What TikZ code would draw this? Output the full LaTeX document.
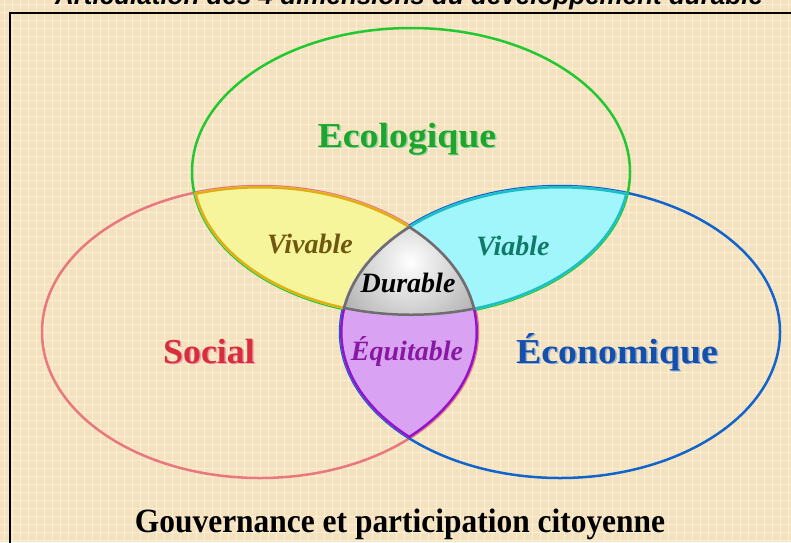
\documentclass[tikz,border=0pt]{standalone}
\usepackage{fontspec}
\setmainfont{Liberation Serif}
\newfontfamily\ttlfont{Liberation Sans}
\definecolor{bg}{RGB}{244,225,190}
\definecolor{gridc}{RGB}{252,242,222}
\definecolor{ecoline}{RGB}{34,200,50}
\definecolor{socline}{RGB}{232,120,125}
\definecolor{econline}{RGB}{18,100,205}
\definecolor{vivfill}{RGB}{247,245,155}
\definecolor{vivline}{RGB}{225,175,20}
\definecolor{viafill}{RGB}{160,246,250}
\definecolor{vialine}{RGB}{30,190,200}
\definecolor{equfill}{RGB}{217,162,242}
\definecolor{equline}{RGB}{145,20,200}
\definecolor{durline}{RGB}{110,110,110}
\definecolor{ecotext}{RGB}{30,165,45}
\definecolor{soctext}{RGB}{215,45,60}
\definecolor{econtext}{RGB}{20,80,170}
\definecolor{vivtext}{RGB}{110,88,16}
\definecolor{viatext}{RGB}{16,122,104}
\definecolor{equtext}{RGB}{135,25,160}
\begin{document}
\begin{tikzpicture}[x=1pt,y=-1pt,
  bigl/.style={anchor=base, inner sep=0pt, font=\bfseries\fontsize{35}{40}\selectfont, xscale=1.08},
  itl/.style={anchor=base, inner sep=0pt, font=\bfseries\itshape\fontsize{28}{32}\selectfont},
  ringline/.style={line width=2.5pt}]
\def\EG{(411,172) ellipse [x radius=219pt, y radius=144pt]}
\def\ES{(260,332) ellipse [x radius=218pt, y radius=146pt]}
\def\EE{(560,332) ellipse [x radius=220pt, y radius=146pt]}
\useasboundingbox (0,0) rectangle (791,542);
\clip (0,0) rectangle (791,542);
\fill[bg] (0,0) rectangle (791,542);
\foreach \g in {4,12,...,788} \draw[gridc, line width=0.8pt, opacity=0.8] (\g,0) -- (\g,542);
\foreach \g in {4,12,...,540} \draw[gridc, line width=0.8pt, opacity=0.8] (0,\g) -- (791,\g);
% frame
\draw[black, line width=2pt] (10,13) rectangle (830,580);
% title (cut off at the top)
\node[anchor=base, inner sep=0pt, font=\ttlfont\bfseries\itshape\fontsize{26}{30}\selectfont] (title) at (409,4) {Articulation des 4 dimensions du développement durable};
% ellipses
\draw[ringline, socline] \ES;
\draw[ringline, econline] \EE;
\draw[ringline, ecoline] \EG;
% Vivable
\begin{scope}
  \clip \EG; \clip \ES;
  \fill[vivfill] \EG;
  \draw[vivline, line width=5pt] \EG;
  \draw[vivline, line width=5pt] \ES;
\end{scope}
% Viable
\begin{scope}
  \clip \EG; \clip \EE;
  \fill[viafill] \EG;
  \draw[vialine, line width=5pt] \EG;
  \draw[vialine, line width=5pt] \EE;
\end{scope}
% Equitable
\begin{scope}
  \clip \ES; \clip \EE;
  \fill[equfill] \ES;
  \draw[equline, line width=5pt] \ES;
  \draw[equline, line width=5pt] \EE;
\end{scope}
% Durable
\begin{scope}
  \clip \EG; \clip \ES; \clip \EE;
  \shade[inner color=white, outer color=gray!60] (410,262) circle (78pt);
  \draw[durline, line width=5pt] \EG;
  \draw[durline, line width=5pt] \ES;
  \draw[durline, line width=5pt] \EE;
\end{scope}
% labels
\node[bigl, text=ecotext!45] (ecos) at (408.5,148.5) {Ecologique};
\node[bigl, text=ecotext] (eco) at (407,147) {Ecologique};
\node[bigl, text=soctext!45, xscale=0.95] (socs) at (210.5,364.5) {Social};
\node[bigl, text=soctext, xscale=0.95] (soc) at (209,363) {Social};
\node[bigl, text=econtext!45] (econs) at (618.5,364.5) {Économique};
\node[bigl, text=econtext] (econ) at (617,363) {Économique};
\node[itl, text=vivtext] (viv) at (310,253) {Vivable};
\node[itl, text=viatext] (via) at (513,255) {Viable};
\node[itl, text=black] (dur) at (408,292) {Durable};
\node[itl, text=equtext] (equ) at (407,360) {Équitable};
\node[anchor=base, inner sep=0pt, font=\bfseries\fontsize{34}{38}\selectfont, xscale=0.925] (gouv) at (400,532) {Gouvernance et participation citoyenne};
\end{tikzpicture}
\end{document}
